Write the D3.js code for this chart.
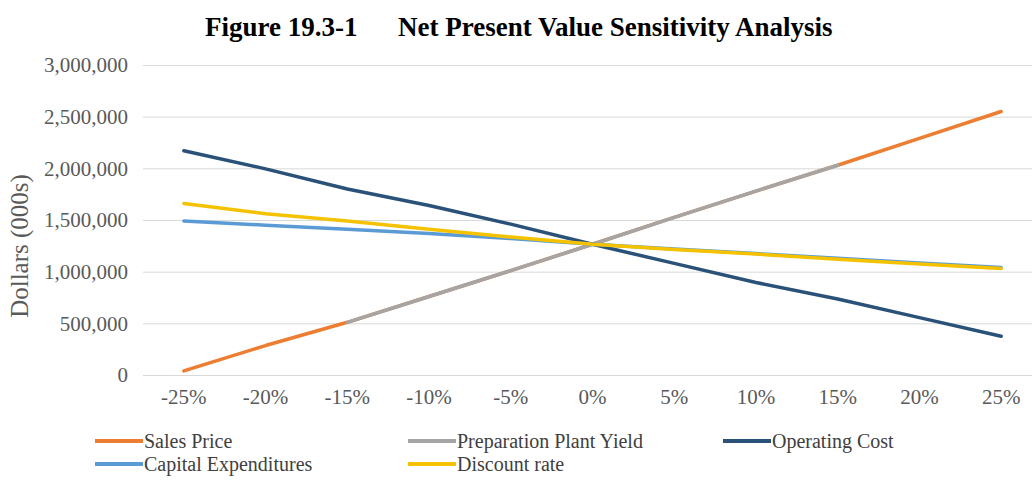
<!DOCTYPE html>
<html>
<head>
<meta charset="utf-8">
<script src="https://cdn.jsdelivr.net/npm/d3@7/dist/d3.min.js"></script>
<style>
  html, body { margin: 0; padding: 0; background: #fff; }
  svg { display: block; }
</style>
</head>
<body>
<svg id="chart" width="1032" height="482"></svg>
<script>
// Sensitivity steps on the category axis
const categories = ["-25%", "-20%", "-15%", "-10%", "-5%", "0%", "5%", "10%", "15%", "20%", "25%"];

// Net present value, dollars (000s), for each sensitivity step
const salesPrice      = [40000, 285000, 510000, 760000, 1010000, 1265000, 1525000, 1780000, 2030000, 2290000, 2550000];
const plantYield      = [null, null, 510000, 760000, 1010000, 1265000, 1525000, 1780000, 2030000, null, null];
const operatingCost   = [2170000, 1995000, 1800000, 1640000, 1460000, 1265000, 1080000, 895000, 735000, 555000, 375000];
const capitalExpend   = [1490000, 1450000, 1410000, 1370000, 1320000, 1265000, 1220000, 1175000, 1130000, 1085000, 1040000];
const discountRate    = [1660000, 1560000, 1490000, 1410000, 1335000, 1265000, 1215000, 1170000, 1120000, 1075000, 1030000];

const yTicks = [0, 500000, 1000000, 1500000, 2000000, 2500000, 3000000];

const seriesNames  = ["Sales Price", "Preparation Plant Yield", "Operating Cost", "Capital Expenditures", "Discount rate"];
const seriesColors = ["#ED7D31", "#A5A5A5", "#2A5279", "#5B9BD5", "#F5C200"];
const seriesValues = [salesPrice, plantYield, operatingCost, capitalExpend, discountRate];

const svg = d3.select("#chart");
const serif = "'Liberation Serif', 'Times New Roman', serif";

const plot = { left: 143, right: 1042, top: 65, bottom: 375 };

const x = d3.scaleBand().domain(categories).range([plot.left, plot.right]);
const xc = c => x(c) + x.bandwidth() / 2;
const y = d3.scaleLinear().domain([0, 3000000]).range([plot.bottom, plot.top]);

// Title: figure number and caption
const title = svg.append("g")
  .attr("font-family", serif).attr("font-weight", "bold")
  .attr("font-size", 27).attr("fill", "#000");
title.append("text").attr("x", 205).attr("y", 36).text("Figure 19.3-1");
title.append("text").attr("x", 398).attr("y", 36).text("Net Present Value Sensitivity Analysis");

// Horizontal gridlines and y axis labels
const yAxis = d3.axisLeft(y).tickValues(yTicks)
  .tickFormat(d3.format(","))
  .tickSize(-(plot.right - plot.left)).tickPadding(15);
const yg = svg.append("g").attr("transform", `translate(${plot.left},0)`).call(yAxis);
yg.select(".domain").remove();
yg.selectAll(".tick line").attr("stroke", "#D9D9D9").attr("stroke-width", 1);
yg.selectAll(".tick text")
  .attr("font-family", serif).attr("font-size", 21).attr("fill", "#595959");

// Category labels
const xAxis = d3.axisBottom(x).tickSize(0).tickPadding(14);
const xg = svg.append("g").attr("transform", `translate(0,${plot.bottom})`).call(xAxis);
xg.select(".domain").remove();
xg.selectAll(".tick text")
  .attr("font-family", serif).attr("font-size", 21).attr("fill", "#595959");

// Y axis title
svg.append("text")
  .attr("transform", "translate(28,246) rotate(-90)")
  .attr("text-anchor", "middle")
  .attr("font-family", serif).attr("font-size", 25).attr("fill", "#595959")
  .text("Dollars (000s)");

// Series lines
const line = d3.line()
  .defined(d => d.v !== null)
  .x(d => xc(d.c))
  .y(d => y(d.v));

seriesValues.forEach((vals, i) => {
  const pts = categories.map((c, j) => ({ c, v: vals[j] }));
  svg.append("path")
    .datum(pts)
    .attr("d", line)
    .attr("fill", "none")
    .attr("stroke", seriesColors[i])
    .attr("stroke-width", 3.5)
    .attr("stroke-linejoin", "round")
    .attr("stroke-linecap", "round");
});

// Legend
const legendPos = [
  { lx: 95,  ty: 441 },
  { lx: 408, ty: 441 },
  { lx: 723, ty: 441 },
  { lx: 95,  ty: 464 },
  { lx: 408, ty: 464 }
];
const lg = svg.append("g");
seriesNames.forEach((name, i) => {
  const p = legendPos[i];
  lg.append("line")
    .attr("x1", p.lx).attr("x2", p.lx + 48)
    .attr("y1", p.ty).attr("y2", p.ty)
    .attr("stroke", seriesColors[i]).attr("stroke-width", 4);
  lg.append("text")
    .attr("x", p.lx + 49).attr("y", p.ty)
    .attr("dy", "0.35em")
    .attr("font-family", serif).attr("font-size", 20).attr("fill", "#404040")
    .text(name);
});
</script>
</body>
</html>
